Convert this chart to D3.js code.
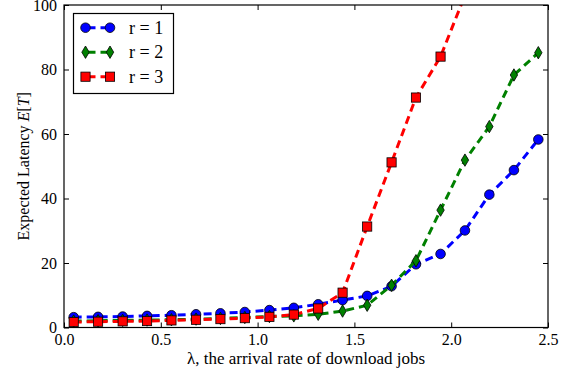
<!DOCTYPE html>
<html>
<head>
    <meta charset="utf-8">
    <title>Expected Latency</title>
    <script src="https://cdn.jsdelivr.net/npm/d3@7"></script>
    <style>
        body { margin: 0; background: #fff; }
        text { font-family: "Liberation Serif", "Times New Roman", serif; fill: #000; }
    </style>
</head>
<body>
<script>
        // arrival rates (lambda)
        var lambdas = [0.05, 0.176, 0.303, 0.429, 0.555, 0.682, 0.808, 0.934, 1.061, 1.187,
                       1.313, 1.439, 1.566, 1.692, 1.818, 1.945, 2.071, 2.197, 2.324, 2.45];
        var r1 = [3.2, 3.3, 3.4, 3.6, 3.8, 4.1, 4.4, 4.8, 5.4, 6.1,
                  7.2, 8.5, 9.8, 12.8, 19.6, 22.8, 30.1, 41.2, 48.8, 58.3];
        var r2 = [2.0, 2.1, 2.2, 2.3, 2.4, 2.6, 2.8, 3.1, 3.4, 3.6,
                  4.1, 5.1, 6.9, 13.1, 20.7, 36.4, 51.9, 62.3, 78.3, 85.2];
        var r3 = [1.7, 1.8, 1.9, 2.0, 2.2, 2.4, 2.6, 2.9, 3.3, 4.0,
                  5.9, 10.8, 31.3, 51.2, 71.3, 84.0, 103];
        var xTicks = [0, 0.5, 1.0, 1.5, 2.0, 2.5];
        var yTicks = [0, 20, 40, 60, 80, 100];

        var series = [
            { name: "r = 1", values: r1, color: "#0000ff", shape: "circle" },
            { name: "r = 2", values: r2, color: "#008000", shape: "diamond" },
            { name: "r = 3", values: r3, color: "#ff0000", shape: "square" }
        ];

        var W = 569, H = 376;
        var pL = 64, pR = 548, pT = 5, pB = 327.5;

        var svg = d3.select("body").append("svg")
            .attr("width", W)
            .attr("height", H);

        var x = d3.scaleLinear().domain([0, 2.5]).range([pL, pR]);
        var y = d3.scaleLinear().domain([0, 100]).range([pB, pT]);

        svg.append("defs").append("clipPath").attr("id", "plot")
            .append("rect")
            .attr("x", pL).attr("y", pT)
            .attr("width", pR - pL).attr("height", pB - pT);

        function marker(sel, shape, color) {
            if (shape === "circle") {
                sel.append("circle").attr("r", 4.8);
            } else if (shape === "square") {
                sel.append("rect").attr("x", -4.6).attr("y", -4.6)
                    .attr("width", 9.2).attr("height", 9.2);
            } else {
                sel.append("path").attr("d", "M0,-6.2L3.7,0L0,6.2L-3.7,0Z");
            }
            sel.selectAll("*")
                .attr("fill", color)
                .attr("stroke", "#000")
                .attr("stroke-width", 0.8);
        }

        var line = d3.line()
            .x(function (d, i) { return x(lambdas[i]); })
            .y(function (d) { return y(d); });

        var plot = svg.append("g").attr("clip-path", "url(#plot)");

        series.forEach(function (s) {
            var g = plot.append("g");
            g.append("path")
                .attr("d", line(s.values))
                .attr("fill", "none")
                .attr("stroke", s.color)
                .attr("stroke-width", 3)
                .attr("stroke-dasharray", "8,5");
            g.selectAll("g.pt")
                .data(s.values)
                .enter().append("g")
                .attr("class", "pt")
                .attr("transform", function (d, i) {
                    return "translate(" + x(lambdas[i]) + "," + y(d) + ")";
                })
                .each(function () { marker(d3.select(this), s.shape, s.color); });
        });

        // frame
        svg.append("rect")
            .attr("x", pL).attr("y", pT)
            .attr("width", pR - pL).attr("height", pB - pT)
            .attr("fill", "none").attr("stroke", "#000").attr("stroke-width", 1.2);

        // axes with inward ticks
        var xb = svg.append("g").attr("transform", "translate(0," + pB + ")")
            .call(d3.axisBottom(x).tickValues(xTicks).tickFormat(d3.format(".1f"))
                .tickSizeInner(-5).tickSizeOuter(0).tickPadding(6));
        var xt = svg.append("g").attr("transform", "translate(0," + pT + ")")
            .call(d3.axisTop(x).tickValues(xTicks).tickFormat("")
                .tickSizeInner(-5).tickSizeOuter(0));
        var yl = svg.append("g").attr("transform", "translate(" + pL + ",0)")
            .call(d3.axisLeft(y).tickValues(yTicks).tickFormat(d3.format("d"))
                .tickSizeInner(-5).tickSizeOuter(0).tickPadding(7));
        var yr = svg.append("g").attr("transform", "translate(" + pR + ",0)")
            .call(d3.axisRight(y).tickValues(yTicks).tickFormat("")
                .tickSizeInner(-5).tickSizeOuter(0));
        [xb, xt, yl, yr].forEach(function (a) {
            a.select(".domain").remove();
            a.selectAll("line").attr("stroke", "#000").attr("stroke-width", 1);
            a.selectAll("text").attr("font-size", 16)
                .style("font-family", "'Liberation Serif', serif");
        });

        // axis labels
        svg.append("text")
            .attr("x", (pL + pR) / 2)
            .attr("y", 364)
            .attr("text-anchor", "middle")
            .attr("font-size", 17)
            .text("\u03bb, the arrival rate of download jobs");

        var ylab = svg.append("text")
            .attr("transform", "translate(29," + ((pT + pB) / 2) + ") rotate(-90)")
            .attr("text-anchor", "middle")
            .attr("font-size", 16);
        ylab.append("tspan").text("Expected Latency ");
        ylab.append("tspan").attr("font-style", "italic").text("E");
        ylab.append("tspan").text("[");
        ylab.append("tspan").attr("font-style", "italic").text("T");
        ylab.append("tspan").text("]");

        // legend
        var leg = svg.append("g");
        leg.append("rect")
            .attr("x", 73.5).attr("y", 13.5)
            .attr("width", 100).attr("height", 80)
            .attr("fill", "#fff").attr("stroke", "#000").attr("stroke-width", 1.2);
        series.forEach(function (s, i) {
            var cy = 27.7 + i * 24.5;
            var row = leg.append("g");
            row.append("line")
                .attr("x1", 85.5).attr("x2", 110)
                .attr("y1", cy).attr("y2", cy)
                .attr("stroke", s.color).attr("stroke-width", 3)
                .attr("stroke-dasharray", "8,5").attr("stroke-dashoffset", -2);
            [85.5, 110].forEach(function (mx) {
                marker(row.append("g").attr("transform", "translate(" + mx + "," + cy + ")"),
                    s.shape, s.color);
            });
            row.append("text")
                .attr("x", 129).attr("y", cy + 6)
                .attr("font-size", 18)
                .text(s.name);
        });
    </script>
</body>
</html>
